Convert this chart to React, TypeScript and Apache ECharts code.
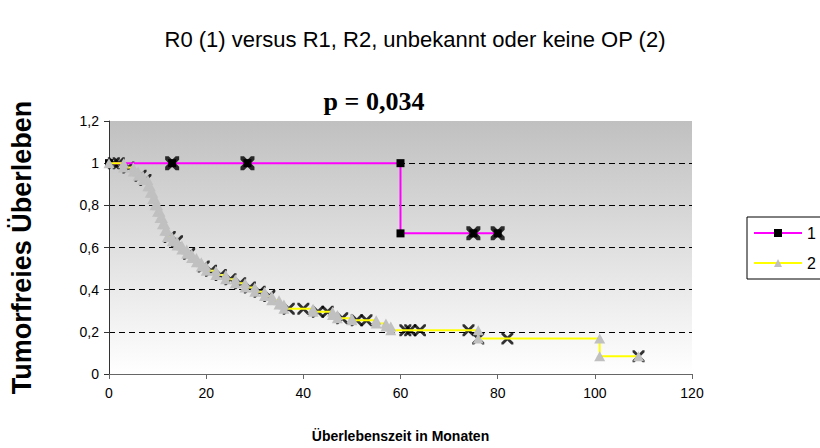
import React, { useEffect, useRef } from "react";
import * as echarts from "echarts";

const TITLE = "R0 (1) versus R1, R2, unbekannt oder keine OP (2)";
const SUBTITLE = "p = 0,034";
const X_NAME = "Überlebenszeit in Monaten";
const Y_NAME = "Tumorfreies Überleben";
const SERIES_NAMES = ["1", "2"];

// Group 1 (R0): Kaplan-Meier vertices (month, survival)
const group1Points: [number, number][] = [
  [0, 1], [13, 1], [28.5, 1], [60, 1], [60, 0.667], [75, 0.667], [80, 0.667],
];
const group1Censored: [number, number][] = [
  [13, 1], [28.5, 1], [75, 0.667], [80, 0.667],
];

// Group 2: event steps (month, survival after event)
const group2Steps: [number, number][] = [
  [3, 0.98], [5, 0.96], [6, 0.94], [7, 0.92], [8, 0.89], [8.5, 0.86], [9, 0.83],
  [9.5, 0.8], [10, 0.77], [10.5, 0.74], [11, 0.71], [11.5, 0.68], [12, 0.65],
  [13, 0.63], [14, 0.61], [15, 0.59], [16, 0.57], [17, 0.55], [18, 0.53],
  [19, 0.51], [20, 0.49], [22, 0.47], [24, 0.45], [26, 0.43], [28, 0.41],
  [30, 0.39], [32, 0.37], [33.5, 0.35], [35, 0.33], [36, 0.31], [42, 0.295],
  [46, 0.28], [47, 0.265], [50, 0.255], [55, 0.24], [57, 0.225], [58, 0.208],
  [76, 0.168], [101, 0.084],
];
const group2End: [number, number] = [109, 0.084];
const group2Censored: [number, number][] = [
  [1, 1], [2, 1], [4, 0.98], [6.5, 0.94], [7.5, 0.92], [12.5, 0.65], [14, 0.63],
  [16.5, 0.57], [19.5, 0.51], [21, 0.49], [23, 0.47], [25, 0.45], [27, 0.43],
  [29, 0.41], [31, 0.39], [33, 0.37], [37, 0.31], [40, 0.31], [43, 0.295],
  [45, 0.295], [48, 0.265], [51, 0.255], [53, 0.255], [61, 0.208], [62, 0.208],
  [64, 0.208], [74, 0.208], [76, 0.168], [82, 0.168], [109, 0.084],
];

const X_MIN = 0, X_MAX = 120, X_STEP = 20;
const Y_MIN = 0, Y_MAX = 1.2, Y_STEP = 0.2;

function buildGroup2(): [number, number][] {
  const pts: [number, number][] = [[0, 1]];
  let prev = 1;
  for (const [t, s] of group2Steps) {
    pts.push([t, prev]);
    pts.push([t, s]);
    prev = s;
  }
  pts.push(group2End);
  return pts;
}

const X_BOLD =
  "path://M0,0L3,0L6,3L9,0L12,0L12,3L9,6L12,9L12,12L9,12L6,9L3,12L0,12L0,9L3,6L0,3Z";
const X_THIN =
  "path://M0,0L2,0L6,4L10,0L12,0L12,2L8,6L12,10L12,12L10,12L6,8L2,12L0,12L0,10L4,6L0,2Z";

export default function App() {
  const ref = useRef<HTMLDivElement>(null);
  useEffect(() => {
    if (!ref.current) return;
    const chart = echarts.init(ref.current, undefined, { renderer: "svg" });
    const sans = "'Liberation Sans', Arial, sans-serif";
    chart.setOption({
      animation: false,
      backgroundColor: "#ffffff",
      title: [
        {
          text: TITLE,
          left: 410,
          top: 23,
          textAlign: "center",
          textStyle: { fontFamily: sans, fontSize: 22, fontWeight: "normal", color: "#000" },
        },
        {
          text: SUBTITLE,
          left: 369,
          top: 83,
          textAlign: "center",
          textStyle: { fontFamily: "'Liberation Serif', 'Times New Roman', serif", fontSize: 26, fontWeight: "bold", color: "#000" },
        },
      ],
      legend: {
        data: SERIES_NAMES,
        orient: "vertical",
        left: 747,
        top: 217,
        itemWidth: 48,
        itemHeight: 10,
        itemGap: 14,
        padding: [8, 20, 8, 6],
        borderColor: "#000",
        borderWidth: 1,
        borderRadius: 0,
        backgroundColor: "#fff",
        textStyle: { fontFamily: sans, fontSize: 16, color: "#000" },
      },
      grid: {
        left: 107,
        right: 128,
        top: 121,
        bottom: 73,
        show: true,
        borderWidth: 0,
        backgroundColor: new echarts.graphic.LinearGradient(0, 0, 0, 1, [
          { offset: 0, color: "#c0c0c0" },
          { offset: 1, color: "#ffffff" },
        ]),
      },
      xAxis: {
        type: "value",
        min: X_MIN,
        max: X_MAX,
        interval: X_STEP,
        name: X_NAME,
        nameLocation: "middle",
        nameGap: 55,
        nameTextStyle: { fontFamily: sans, fontSize: 14, fontWeight: "bold", color: "#000" },
        axisLine: { show: true, lineStyle: { color: "#666", width: 1 } },
        axisTick: { show: true, inside: false, length: 5, lineStyle: { color: "#666" } },
        axisLabel: { fontFamily: sans, fontSize: 14, color: "#000", margin: 12 },
        splitLine: { show: false },
      },
      yAxis: {
        type: "value",
        min: Y_MIN,
        max: Y_MAX,
        interval: Y_STEP,
        name: Y_NAME,
        nameLocation: "middle",
        nameGap: 74,
        nameTextStyle: { fontFamily: sans, fontSize: 27, fontWeight: "bold", color: "#000" },
        axisLine: { show: true, lineStyle: { color: "#333", width: 1 } },
        axisTick: { show: true, inside: false, length: 5, lineStyle: { color: "#333" } },
        axisLabel: {
          fontFamily: sans,
          fontSize: 14,
          color: "#000",
          margin: 10,
          formatter: (v: number) => String(Math.round(v * 10) / 10).replace(".", ","),
        },
        splitLine: {
          show: true,
          showMinLine: false,
          showMaxLine: false,
          lineStyle: { color: "#000", type: [6, 4], width: 1 },
        },
      },
      series: [
        {
          name: "c2",
          type: "scatter",
          data: group2Censored,
          symbol: X_THIN,
          symbolSize: 12,
          itemStyle: { color: "#000" },
          silent: true,
          z: 2,
        },
        {
          name: "c1",
          type: "scatter",
          data: group1Censored,
          symbol: X_BOLD,
          symbolSize: 14,
          itemStyle: { color: "#000" },
          silent: true,
          z: 2,
        },
        {
          name: SERIES_NAMES[0],
          type: "line",
          data: group1Points,
          symbol: "rect",
          symbolSize: 8,
          showAllSymbol: true,
          lineStyle: { color: "#ff00ff", width: 2 },
          itemStyle: { color: "#000" },
          z: 3,
        },
        {
          name: SERIES_NAMES[1],
          type: "line",
          data: buildGroup2(),
          symbol: "triangle",
          symbolSize: [11, 10],
          showAllSymbol: true,
          lineStyle: { color: "#ffff00", width: 2 },
          itemStyle: { color: "#c0c0c0" },
          z: 4,
        },
      ],
    });
    return () => chart.dispose();
  }, []);
  return (
    <div
      ref={ref}
      style={{ position: "fixed", left: 0, top: 0, width: 820, height: 448 }}
    />
  );
}
